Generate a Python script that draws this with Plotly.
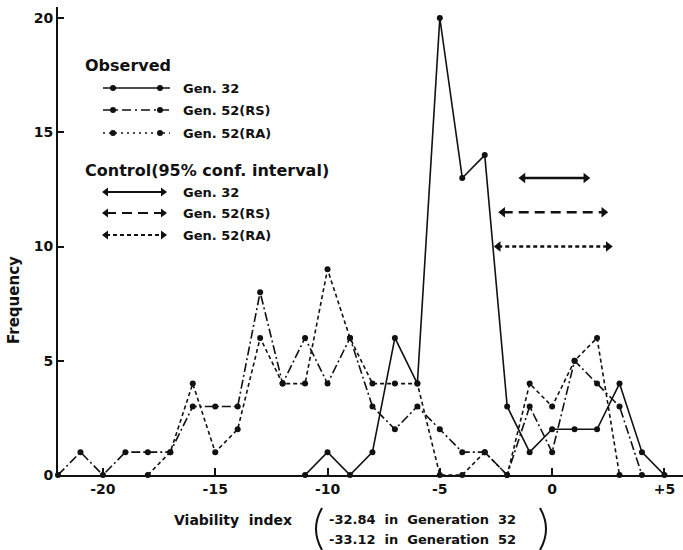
import plotly.graph_objects as go

# ---------------- data ----------------
gen32_x = list(range(-11, 6))
gen32_y = [0, 1, 0, 1, 6, 4, 20, 13, 14, 3, 1, 2, 2, 2, 4, 1, 0]

rs_x = list(range(-22, 5))
rs_y = [0, 1, 0, 1, 1, 1, 3, 3, 3, 8, 4, 6, 4, 6, 3, 2, 3, 2, 1, 1, 0, 3, 1, 5, 4, 3, 0]

ra_x = list(range(-18, 4))
ra_y = [0, 1, 4, 1, 2, 6, 4, 4, 9, 6, 4, 4, 4, 0, 0, 1, 0, 4, 3, 5, 6, 0]

ctrl_names = ["Gen. 32", "Gen. 52(RS)", "Gen. 52(RA)"]
ctrl_lo = [-1.3, -2.2, -2.4]
ctrl_hi = [1.5, 2.3, 2.5]
ctrl_level = [13.0, 11.5, 10.0]

x_tickvals = [-20, -15, -10, -5, 0, 5]
x_ticktext = ["-20", "-15", "-10", "-5", "0", "+5"]
y_tickvals = [0, 5, 10, 15, 20]
y_ticktext = ["0", "5", "10", "15", "20"]

# ---------------- styles ----------------
INK = "#111111"
FONT = "DejaVu Sans"
W, H = 683, 550
L, R, T, B = 58, 0, 7, 75
PW, PH = W - L - R, H - T - B

obs_dash = ["solid", "9px,3px,2px,3px", "4px,3px"]
obs_key_dash = ["solid", "9px,4px,2px,4px", "2px,4px"]
ctrl_dash = ["solid", "10px,6px", "4px,3px"]


def px(x):
    return (x - L) / PW


def py(y):
    return (H - B - y) / PH


fig = go.Figure()

obs_series = [(gen32_x, gen32_y), (rs_x, rs_y), (ra_x, ra_y)]
for (xs, ys), d, nm in zip(obs_series, obs_dash, ctrl_names):
    fig.add_trace(go.Scatter(
        x=xs, y=ys, mode="lines+markers", name=nm, showlegend=False,
        line=dict(color=INK, width=1.6, dash=d),
        marker=dict(color=INK, size=6), cliponaxis=False))

for lo, hi, lev, d, nm in zip(ctrl_lo, ctrl_hi, ctrl_level, ctrl_dash, ctrl_names):
    fig.add_trace(go.Scatter(
        x=[lo, hi], y=[lev, lev], mode="lines+markers", name="Control " + nm,
        showlegend=False,
        line=dict(color=INK, width=2.4, dash=d),
        marker=dict(color=INK, size=9, symbol=["triangle-left", "triangle-right"])))

# ---------------- hand-drawn legend (pixel overlay axes) ----------------
key_x0, key_x1 = 103, 170
obs_rows = [88, 110, 133]
ctrl_rows = [192, 213, 235]
for yy, d in zip(obs_rows, obs_key_dash):
    fig.add_trace(go.Scatter(
        x=[key_x0, key_x1], y=[yy, yy], mode="lines", xaxis="x2", yaxis="y2",
        showlegend=False, hoverinfo="skip",
        line=dict(color=INK, width=1.6, dash=d)))
    fig.add_trace(go.Scatter(
        x=[113, 160], y=[yy, yy], mode="markers", xaxis="x2", yaxis="y2",
        showlegend=False, hoverinfo="skip", marker=dict(color=INK, size=6)))
for yy, d in zip(ctrl_rows, ctrl_dash):
    fig.add_trace(go.Scatter(
        x=[106, 163], y=[yy, yy], mode="lines+markers", xaxis="x2", yaxis="y2",
        showlegend=False, hoverinfo="skip",
        line=dict(color=INK, width=2.2, dash=d),
        marker=dict(color=INK, size=8, symbol=["triangle-left", "triangle-right"])))

annotations = []
annotations.append(dict(x=83, y=65, xref="x2", yref="y2", text="Observed",
                        showarrow=False, xanchor="left", yanchor="middle",
                        font=dict(family=FONT, size=16, color=INK, weight="bold")))
annotations.append(dict(x=83, y=170, xref="x2", yref="y2",
                        text="Control(95% conf. interval)",
                        showarrow=False, xanchor="left", yanchor="middle",
                        font=dict(family=FONT, size=16, color=INK, weight="bold")))
for yy, nm in zip(obs_rows + ctrl_rows, ctrl_names + ctrl_names):
    annotations.append(dict(x=181, y=yy, xref="x2", yref="y2", text=nm,
                            showarrow=False, xanchor="left", yanchor="middle",
                            font=dict(family=FONT, size=13, color=INK, weight="bold")))

# axis titles
annotations.append(dict(x=px(14), y=py(300), xref="paper", yref="paper", text="Frequency",
                        showarrow=False, textangle=-90, xanchor="center", yanchor="middle",
                        font=dict(family=FONT, size=15, color=INK, weight="bold")))
annotations.append(dict(x=px(172), y=py(520), xref="paper", yref="paper",
                        text="Viability\u00a0\u00a0index",
                        showarrow=False, xanchor="left", yanchor="middle",
                        font=dict(family=FONT, size=14, color=INK, weight="bold")))
annotations.append(dict(x=px(327), y=py(519), xref="paper", yref="paper",
                        text="-32.84\u00a0 in\u00a0 Generation\u00a0 32",
                        showarrow=False, xanchor="left", yanchor="middle",
                        font=dict(family=FONT, size=13, color=INK, weight="bold")))
annotations.append(dict(x=px(327), y=py(539), xref="paper", yref="paper",
                        text="-33.12\u00a0 in\u00a0 Generation\u00a0 52",
                        showarrow=False, xanchor="left", yanchor="middle",
                        font=dict(family=FONT, size=13, color=INK, weight="bold")))

# parentheses as curves
shapes = []
for xe, xm, yt, yb in [(322, 316, 508, 550), (540, 546, 508, 550)]:
    path = "M {:.4f},{:.4f} Q {:.4f},{:.4f} {:.4f},{:.4f}".format(
        px(xe), py(yt), px(xm - (xe - xm)), py((yt + yb) / 2), px(xe), py(yb))
    shapes.append(dict(type="path", xref="paper", yref="paper", path=path,
                       line=dict(color=INK, width=2)))

fig.update_layout(
    width=W, height=H,
    margin=dict(l=L, r=R, t=T, b=B, pad=0),
    paper_bgcolor="white", plot_bgcolor="white",
    showlegend=False,
    font=dict(family=FONT, color=INK),
    xaxis=dict(range=[-22, -22 + PW / 22.46], tickvals=x_tickvals, ticktext=x_ticktext,
               showgrid=False, zeroline=False, showline=True, linecolor=INK, linewidth=1.8,
               ticks="inside", ticklen=7, tickwidth=1.6, tickcolor=INK,
               tickfont=dict(family=FONT, size=14, color=INK, weight="bold")),
    yaxis=dict(range=[0, PH / 22.85], tickvals=y_tickvals, ticktext=y_ticktext,
               showgrid=False, zeroline=False, showline=True, linecolor=INK, linewidth=1.8,
               ticks="inside", ticklen=6, tickwidth=1.6, tickcolor=INK,
               tickfont=dict(family=FONT, size=14, color=INK, weight="bold")),
    xaxis2=dict(range=[L, W - R], overlaying="x", anchor="y2", visible=False),
    yaxis2=dict(range=[H - B, T], overlaying="y", anchor="x2", visible=False),
    annotations=annotations,
    shapes=shapes,
)

fig.write_html("out.html")
